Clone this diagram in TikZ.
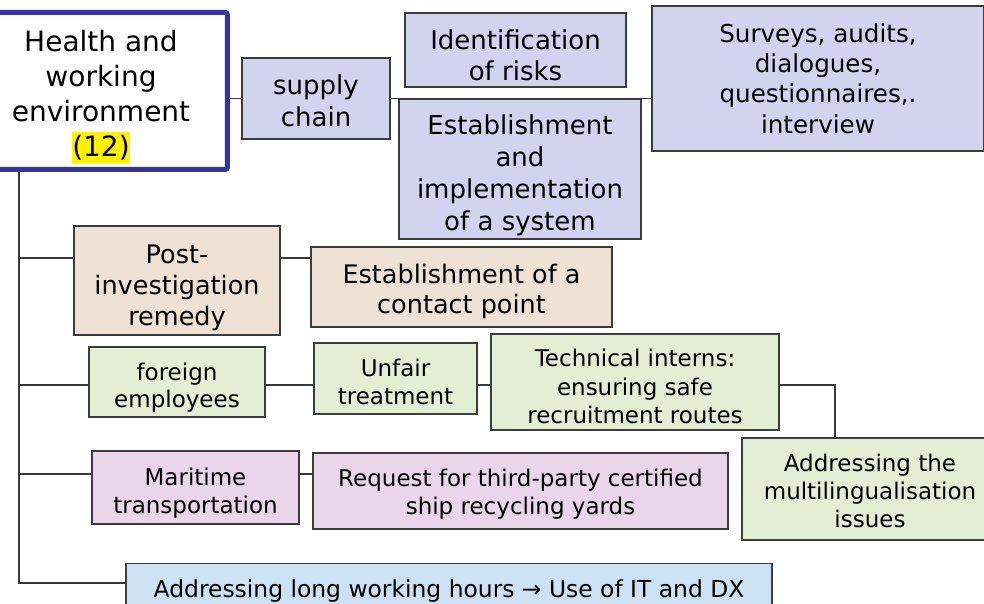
\documentclass[tikz,border=0pt]{standalone}
\usepackage{fontspec}
\setmainfont{DejaVu Sans}
\usepackage{tikz}

\definecolor{mainblue}{HTML}{34349A}
\definecolor{boxline}{HTML}{3C3C3C}
\definecolor{linegray}{HTML}{383838}
\definecolor{boxlav}{HTML}{D2D3EF}
\definecolor{boxtan}{HTML}{EFE1D3}
\definecolor{boxgreen}{HTML}{E4EED4}
\definecolor{boxpink}{HTML}{EBD5EA}
\definecolor{boxsky}{HTML}{CDE1F4}

% pushes the lines of a box down by #1 pt
\newcommand{\textdrop}[1]{\rule{0pt}{\dimexpr0.76em+#1pt+#1pt\relax}}

\begin{document}
\begin{tikzpicture}[x=1pt, y=-1pt,
    box/.style={draw=boxline, line width=1.3pt, align=center, inner sep=0pt},
    lavbox/.style={box, fill=boxlav, font=\fontsize{26}{32}\selectfont},
    tanbox/.style={box, fill=boxtan, font=\fontsize{25.5}{31}\selectfont},
    greenbox/.style={box, fill=boxgreen, font=\fontsize{23}{28}\selectfont},
    pinkbox/.style={box, fill=boxpink, font=\fontsize{23}{28}\selectfont},
    link/.style={draw=linegray, line width=1.2pt}]
    \useasboundingbox (0,0) rectangle (984,604);

    % Nodes
    \node (main) [draw=mainblue, line width=5pt, rounded corners=2pt, fill=white, align=center,
        minimum width=252.5pt, minimum height=157pt, font=\fontsize{28}{35}\selectfont] at (101,91)
        {\textdrop{5.4}Health and\\working\\environment\\{\setlength{\fboxsep}{0pt}\colorbox{yellow}{\rule[-7pt]{0pt}{31pt}(12)}}};
    \node (supply) [lavbox, minimum width=148pt, minimum height=81pt] at (316,98.5) {\textdrop{2}supply\\chain};
    \node (ident) [lavbox, minimum width=221pt, minimum height=74pt, font=\fontsize{26}{31}\selectfont] at (515.5,50)
        {\textdrop{5.5}Identification\\of risks};
    \node (estab) [lavbox, minimum width=242pt, minimum height=140pt] at (520,169)
        {\textdrop{6.5}Establishment\\and\\implementation\\of a system};
    \node (survey) [lavbox, minimum width=332pt, minimum height=145pt, font=\fontsize{24.6}{30.3}\selectfont] at (818,78.5)
        {Surveys, audits,\\dialogues,\\questionnaires,.\\interview};
    \node (post) [tanbox, minimum width=206pt, minimum height=109pt] at (177,280.5) {\textdrop{6.5}Post-\\investigation\\remedy};
    \node (contact) [tanbox, minimum width=301pt, minimum height=80pt, font=\fontsize{25.5}{30}\selectfont] at (461.5,287)
        {\textdrop{4.3}Establishment of a\\contact point};
    \node (foreign) [greenbox, minimum width=176pt, minimum height=70pt, font=\fontsize{23}{27.5}\selectfont] at (177,382)
        {\textdrop{5.7}foreign\\employees};
    \node (unfair) [greenbox, minimum width=163pt, minimum height=71pt] at (395.5,378.5) {\textdrop{3.7}Unfair\\treatment};
    \node (tech) [greenbox, minimum width=288pt, minimum height=96pt, font=\fontsize{23}{28.7}\selectfont] at (635,382)
        {\textdrop{4.7}Technical interns:\\ensuring safe\\recruitment routes};
    \node (multi) [greenbox, minimum width=256pt, minimum height=102pt] at (870,489)
        {\textdrop{2}Addressing the\\multilingualisation\\issues};
    \node (maritime) [pinkbox, minimum width=207pt, minimum height=73pt] at (195.5,487.5) {\textdrop{5.6}Maritime\\transportation};
    \node (request) [pinkbox, minimum width=415pt, minimum height=76pt] at (520.5,491)
        {\textdrop{2.7}Request for third-party certified\\ship recycling yards};
    \node (long) [box, fill=boxsky, anchor=north, minimum width=646pt, inner ysep=4pt, text height=30pt, text depth=10pt,
        font=\fontsize{23.4}{28}\selectfont] at (449,563) {Addressing long working hours → Use of IT and DX};

    % Edges
    \coordinate (jpost) at (19,258);
    \coordinate (jforeign) at (19,385);
    \coordinate (jmaritime) at (19,474);
    \coordinate (jlong) at (19,583);
    \draw[link] (supply.west -| main.east) -- (supply.west);
    \draw[link] (supply.east) -- (supply.east -| survey.west);
    \draw[link] (main.south -| jlong) -- (jlong) -- (jlong -| long.west);
    \draw[link] (jpost) -- (jpost -| post.west);
    \draw[link] (jpost -| post.east) -- (jpost -| contact.west);
    \draw[link] (jforeign) -- (jforeign -| foreign.west);
    \draw[link] (jforeign -| foreign.east) -- (jforeign -| unfair.west);
    \draw[link] (jforeign -| unfair.east) -- (jforeign -| tech.west);
    \draw[link] (jforeign -| tech.east) -| ([xshift=-35pt]multi.north);
    \draw[link] (jmaritime) -- (jmaritime -| maritime.west);
    \draw[link] (jmaritime -| maritime.east) -- (jmaritime -| request.west);
\end{tikzpicture}
\end{document}
